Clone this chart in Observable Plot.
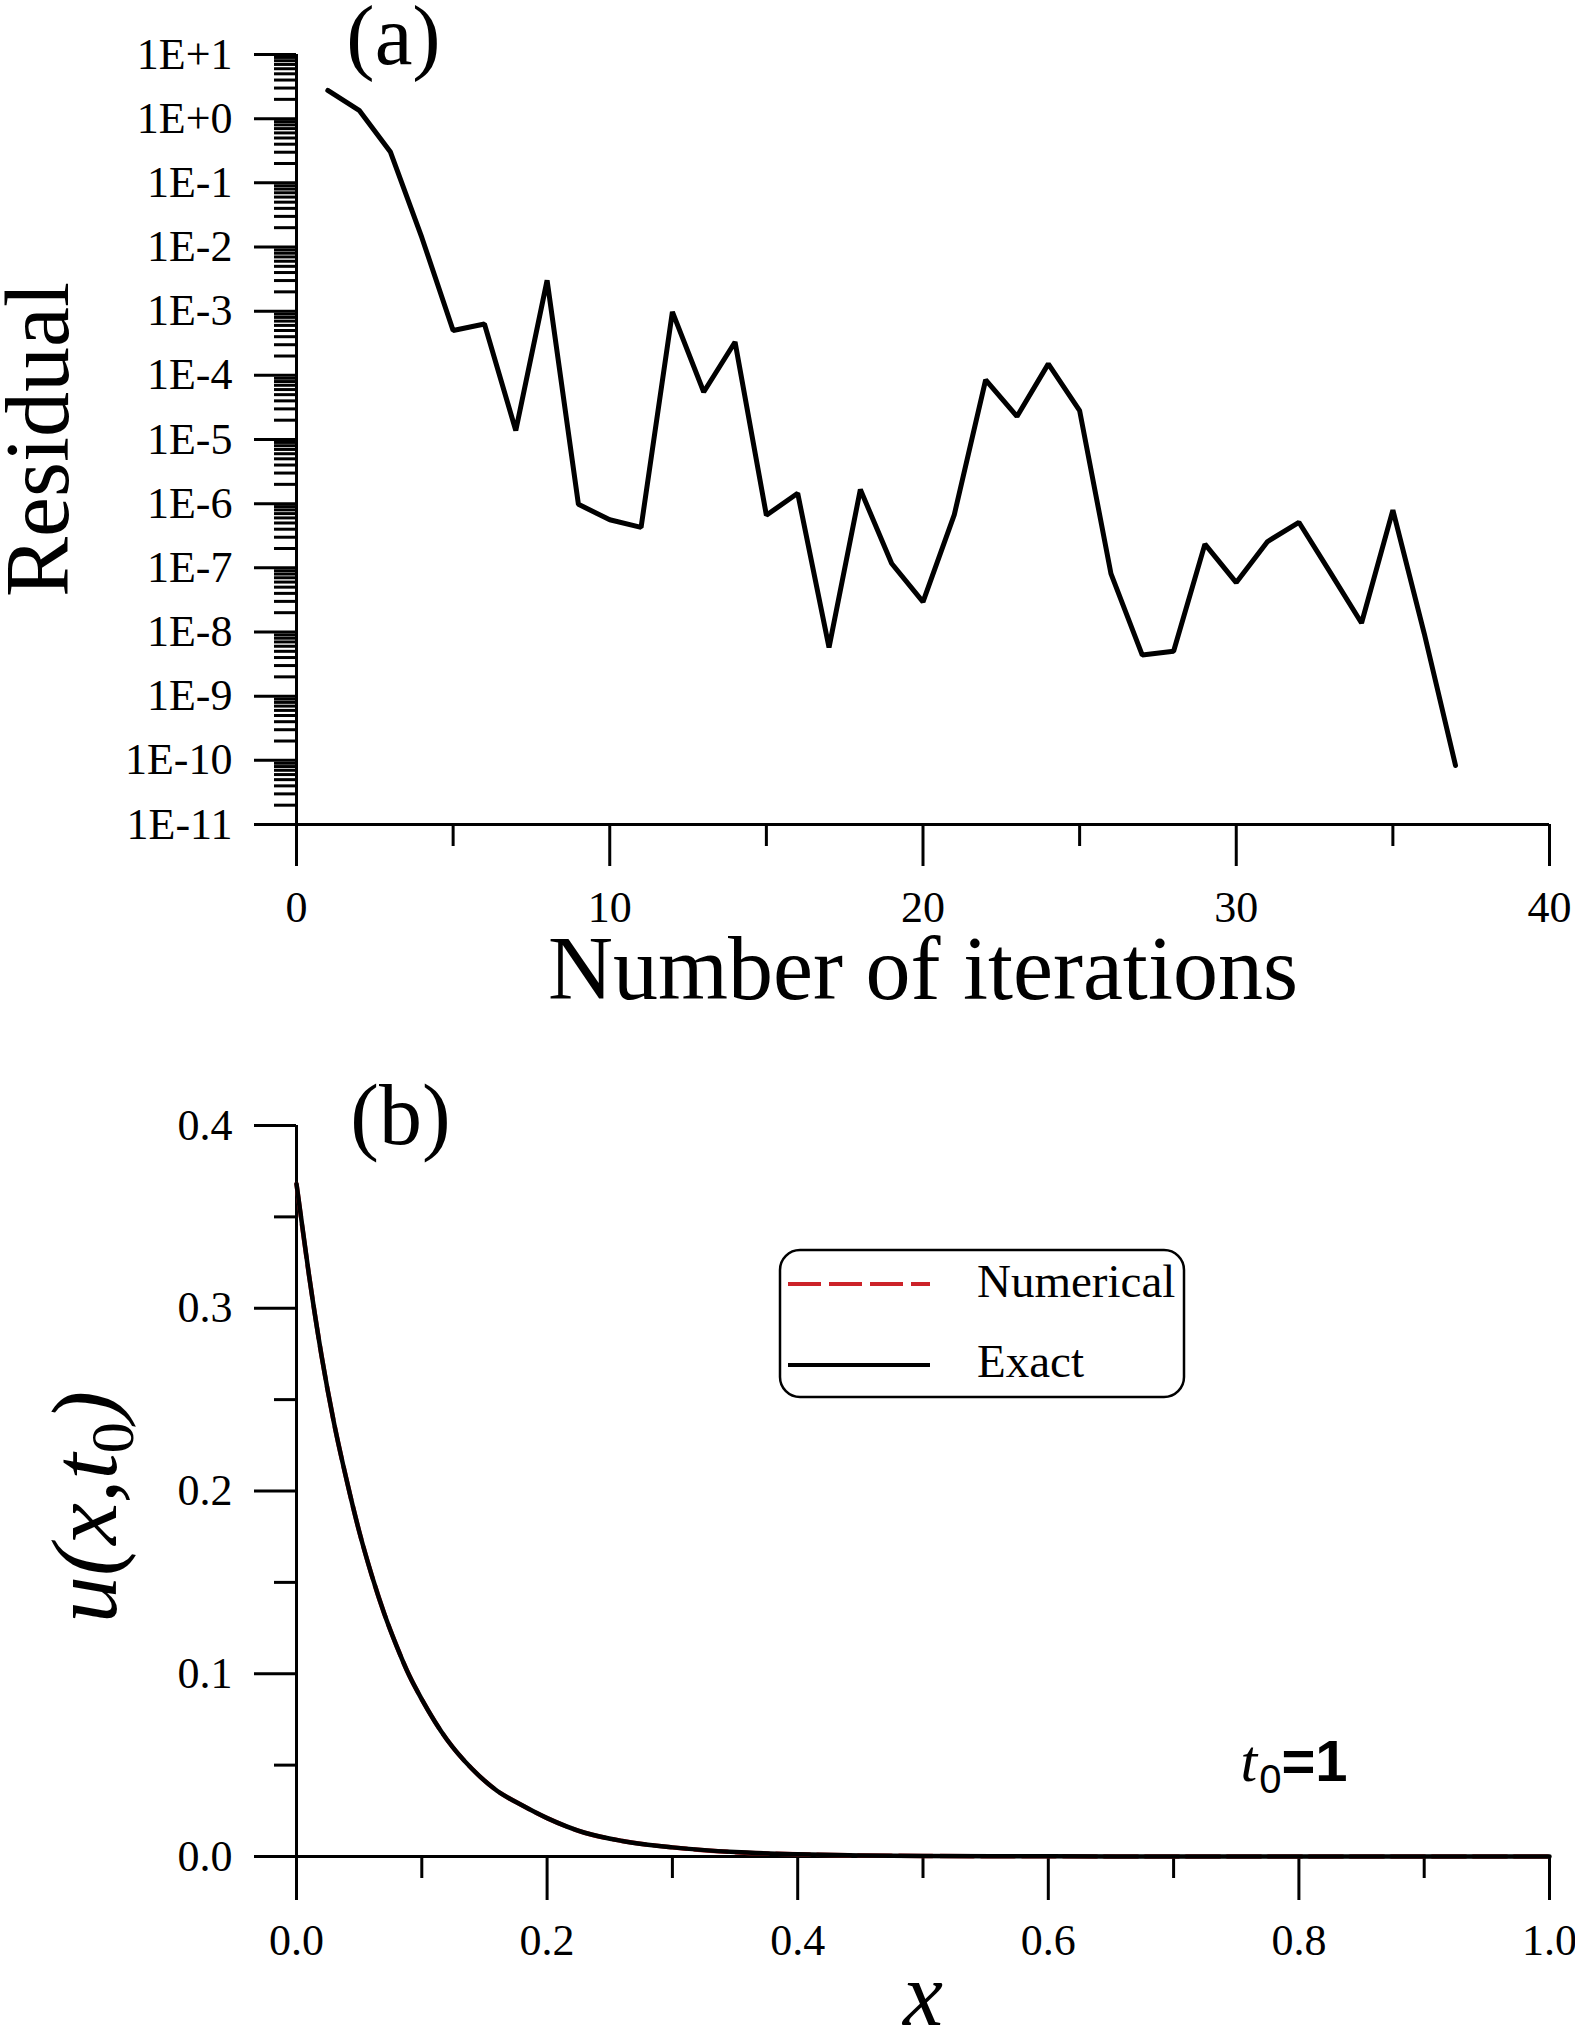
<!DOCTYPE html>
<html>
<head>
<meta charset="utf-8">
<script src="https://cdn.jsdelivr.net/npm/d3@7"></script>
<script src="https://cdn.jsdelivr.net/npm/@observablehq/plot@0.6"></script>
<style>
  html, body { margin: 0; padding: 0; background: white; }
  #chart { width: 1575px; height: 2029px; position: relative; overflow: hidden; }
  #chart svg { display: block; max-width: none !important; }
</style>
</head>
<body>
<div id="chart"></div>
<script>
// ---------- Panel (a): residual vs iteration ----------
const iterations = [1,2,3,4,5,6,7,8,9,10,11,12,13,14,15,16,17,18,19,20,21,22,23,24,25,26,27,28,29,30,31,32,33,34,35,36,37];
const residuals = [2.75,1.35,0.302,1.41e-2,5.01e-4,6.31e-4,1.38e-5,3.02e-3,9.77e-7,5.62e-7,4.27e-7,9.77e-4,5.50e-5,3.31e-4,6.61e-7,1.45e-6,5.75e-9,1.66e-6,1.17e-7,2.95e-8,6.76e-7,8.51e-5,2.29e-5,1.51e-4,2.82e-5,8.13e-8,4.37e-9,5.01e-9,2.34e-7,5.89e-8,2.57e-7,5.13e-7,8.51e-8,1.38e-8,7.94e-7,9.55e-9,8.32e-11];
const yDecadesA = [1e1,1e0,1e-1,1e-2,1e-3,1e-4,1e-5,1e-6,1e-7,1e-8,1e-9,1e-10,1e-11];
const yDecadeLabelsA = ["1E+1","1E+0","1E-1","1E-2","1E-3","1E-4","1E-5","1E-6","1E-7","1E-8","1E-9","1E-10","1E-11"];
const minorMultipliers = [2,3,4,5,6,7,8,9];
const xMajorA = [0,10,20,30,40];
const xMinorA = [5,15,25,35];

// ---------- Panel (b): u(x,t0) ----------
const xs = [0,0.01,0.02,0.03,0.04,0.05,0.06,0.07,0.08,0.09,0.10,0.12,0.14,0.16,0.18,0.20,0.23,0.26,0.30,0.35,0.40,0.45,0.50,0.60,0.70,0.80,0.90,1.00];
const uExact = [0.368,0.318,0.274,0.237,0.206,0.178,0.154,0.133,0.115,0.099,0.086,0.064,0.048,0.036,0.028,0.021,0.013,0.0085,0.0050,0.0024,0.0012,0.0006,0.0003,0.0001,0,0,0,0];
const uNumerical = [0.368,0.318,0.274,0.237,0.206,0.178,0.154,0.133,0.115,0.099,0.086,0.064,0.048,0.036,0.028,0.021,0.013,0.0085,0.0050,0.0024,0.0012,0.0006,0.0003,0.0001,0,0,0,0];
const yMajorB = [0,0.1,0.2,0.3,0.4];
const yMajorLabelsB = ["0.0","0.1","0.2","0.3","0.4"];
const yMinorB = [0.05,0.15,0.25,0.35];
const xMajorB = [0,0.2,0.4,0.6,0.8,1.0];
const xMajorLabelsB = ["0.0","0.2","0.4","0.6","0.8","1.0"];
const xMinorB = [0.1,0.3,0.5,0.7,0.9];
const legendLabels = ["Numerical","Exact"];
const RED = "#cc2229";

// derived tables
const dataA = iterations.map((it, i) => ({it, r: residuals[i]}));
const yMinorA = [];
yDecadesA.slice(1).forEach(d => minorMultipliers.forEach(m => yMinorA.push(d * m)));
const labelA = new Map(yDecadesA.map((d, i) => [d, yDecadeLabelsA[i]]));
const dataExact = xs.map((x, i) => ({x, u: uExact[i]}));
const dataNum = xs.map((x, i) => ({x, u: uNumerical[i]}));
const labelBy = new Map(yMajorB.map((d, i) => [d, yMajorLabelsB[i]]));
const labelBx = new Map(xMajorB.map((d, i) => [d, xMajorLabelsB[i]]));

const SERIF = "'Liberation Serif', 'Times New Roman', serif";
const SANS = "'Liberation Sans', Arial, sans-serif";
const TICKFS = 44;
const AXW = 3;

const plotA = Plot.plot({
  width: 1575,
  height: 1010,
  marginLeft: 296,
  marginRight: 26,
  marginTop: 54,
  marginBottom: 186,
  x: {domain: [0, 40]},
  y: {type: "log", domain: [1e-11, 10]},
  style: {fontFamily: SERIF, fontSize: TICKFS + "px", background: "white", color: "black", overflow: "visible"},
  marks: [
    Plot.axisY({ticks: yMinorA, tickSize: 22, fill: "none", strokeWidth: AXW, label: null}),
    Plot.axisY({ticks: yDecadesA, tickSize: 42, tickPadding: 22, strokeWidth: AXW, label: null,
      tickFormat: d => labelA.get(d) ?? "", fontSize: TICKFS}),
    Plot.axisX({ticks: xMinorA, tickSize: 22, fill: "none", strokeWidth: AXW, label: null}),
    Plot.axisX({ticks: xMajorA, tickSize: 42, tickPadding: 24, strokeWidth: AXW, label: null,
      tickFormat: d => String(d), fontSize: TICKFS}),
    Plot.ruleX([0], {strokeWidth: AXW}),
    Plot.ruleY([1e-11], {strokeWidth: AXW}),
    Plot.line(dataA, {x: "it", y: "r", stroke: "black", strokeWidth: 5, strokeLinejoin: "miter"}),
    Plot.text(["Residual"], {text: d => d, frameAnchor: "left", rotate: -90, dx: -229, lineAnchor: "bottom",
      textAnchor: "middle", fontSize: 90}),
    Plot.text(["Number of iterations"], {text: d => d, frameAnchor: "bottom", dy: 174, lineAnchor: "bottom",
      textAnchor: "middle", fontSize: 90}),
    Plot.text(["(a)"], {text: d => d, frameAnchor: "top-left", dx: 97, dy: 9, lineAnchor: "bottom",
      textAnchor: "middle", fontSize: 85})
  ]
});

const plotB = Plot.plot({
  width: 1575,
  height: 1019,
  marginLeft: 296,
  marginRight: 26,
  marginTop: 115,
  marginBottom: 173,
  x: {domain: [0, 1]},
  y: {domain: [0, 0.4]},
  style: {fontFamily: SERIF, fontSize: TICKFS + "px", background: "white", color: "black", overflow: "visible"},
  marks: [
    Plot.axisY({ticks: yMinorB, tickSize: 22, fill: "none", strokeWidth: AXW, label: null}),
    Plot.axisY({ticks: yMajorB, tickSize: 42, tickPadding: 22, strokeWidth: AXW, label: null,
      tickFormat: d => labelBy.get(d) ?? "", fontSize: TICKFS}),
    Plot.axisX({ticks: xMinorB, tickSize: 22, fill: "none", strokeWidth: AXW, label: null}),
    Plot.axisX({ticks: xMajorB, tickSize: 44, tickPadding: 23, strokeWidth: AXW, label: null,
      tickFormat: d => labelBx.get(d) ?? "", fontSize: TICKFS}),
    Plot.ruleX([0], {strokeWidth: AXW}),
    Plot.ruleY([0], {strokeWidth: AXW}),
    Plot.line(dataNum, {x: "x", y: "u", stroke: RED, strokeWidth: 4.5, strokeDasharray: "33,8", curve: "monotone-x"}),
    Plot.line(dataExact, {x: "x", y: "u", stroke: "black", strokeWidth: 4.5, curve: "monotone-x"}),
    Plot.text(["u(x,t0)"], {text: d => d, frameAnchor: "left", rotate: -90, dx: -181, dy: 16, lineAnchor: "bottom",
      textAnchor: "middle", fontSize: 94, fontStyle: "italic"}),
    Plot.text(["x"], {text: d => d, frameAnchor: "bottom", dy: 168, lineAnchor: "bottom", textAnchor: "middle",
      fontSize: 90, fontStyle: "italic"}),
    Plot.text(["(b)"], {text: d => d, frameAnchor: "top-left", dx: 104, dy: 18, lineAnchor: "bottom",
      textAnchor: "middle", fontSize: 86}),
    Plot.text(["t0=1"], {text: d => d, frameAnchor: "bottom-left", dx: 944, dy: -76, lineAnchor: "bottom",
      textAnchor: "start", fontSize: 56})
  ]
});

const chart = document.getElementById("chart");
chart.appendChild(plotA);
chart.appendChild(plotB);

function findText(svg, content) {
  return d3.select(svg).selectAll("text").filter(function () { return this.textContent === content; });
}

// subscript formatting for u(x,t0)
{
  const t = findText(plotB, "u(x,t0)");
  t.text(null);
  t.append("tspan").text("u(x,t");
  t.append("tspan").attr("font-size", 62).attr("dy", 17).attr("font-style", "normal").text("0");
  t.append("tspan").attr("dy", -17).text(")");
}
// t0=1 annotation
{
  const t = findText(plotB, "t0=1");
  t.text(null);
  t.append("tspan").attr("font-family", SERIF).attr("font-style", "italic").attr("font-size", 60).text("t");
  t.append("tspan").attr("font-family", SANS).attr("font-size", 40).attr("dx", 2).attr("dy", 12).text("0");
  t.append("tspan").attr("font-family", "'Liberation Sans Narrow', " + SANS)
    .attr("font-weight", "bold").attr("font-size", 58).attr("dy", -12).text("=1");
}
// legend box
{
  const svg = d3.select(plotB);
  const g = svg.append("g").attr("aria-label", "legend");
  g.append("rect").attr("x", 780).attr("y", 240).attr("width", 404).attr("height", 147).attr("rx", 20)
    .attr("fill", "white").attr("stroke", "black").attr("stroke-width", 2.5);
  g.append("line").attr("x1", 788).attr("x2", 930).attr("y1", 274).attr("y2", 274)
    .attr("stroke", RED).attr("stroke-width", 4).attr("stroke-dasharray", "33,8");
  g.append("line").attr("x1", 788).attr("x2", 930).attr("y1", 355).attr("y2", 355)
    .attr("stroke", "black").attr("stroke-width", 4);
  g.append("text").attr("x", 977).attr("y", 287).attr("text-anchor", "start")
    .attr("font-family", SERIF).attr("font-size", 47).text(legendLabels[0]);
  g.append("text").attr("x", 977).attr("y", 367).attr("text-anchor", "start")
    .attr("font-family", SERIF).attr("font-size", 47).text(legendLabels[1]);
}
</script>
</body>
</html>
